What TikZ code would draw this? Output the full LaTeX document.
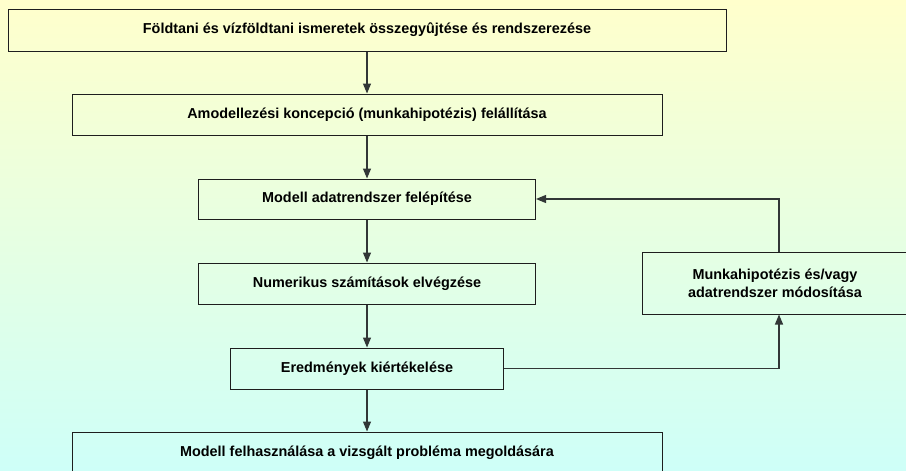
\documentclass[tikz,border=0pt]{standalone}
\usepackage{fontspec}
\setmainfont{Liberation Sans}
\usetikzlibrary{arrows.meta}
\definecolor{bgtop}{RGB}{255,255,204}
\definecolor{bgbot}{RGB}{206,255,248}
\definecolor{edge}{RGB}{30,30,30}
\definecolor{conn}{RGB}{50,55,55}
\tikzset{
  box/.style={draw=edge, line width=1pt, rectangle, inner sep=0pt, align=center,
    font=\fontsize{14.4}{18}\selectfont\bfseries},
  conn/.style={draw=conn, line width=1.2pt, -{Triangle[length=10pt,width=8pt]}},
  plain/.style={draw=conn, line width=1.2pt}
}
\begin{document}
\begin{tikzpicture}[x=1pt,y=-1pt]
\useasboundingbox (0,0) rectangle (906,471);
\clip (0,0) rectangle (906,471);
\shade[top color=bgtop, bottom color=bgbot] (0,0) rectangle (906,471);
\node[box, minimum width=718pt, minimum height=42pt] (b1) at (367,30) {Földtani és vízföldtani ismeretek összegyûjtése és rendszerezése};
\node[box, minimum width=590pt, minimum height=41pt] (b2) at (367,114.5) {Amodellezési koncepció (munkahipotézis) felállítása};
\node[box, minimum width=337pt, minimum height=40pt] (b3) at (367,199) {Modell adatrendszer felépítése};
\node[box, minimum width=337pt, minimum height=41pt] (b4) at (367,283.5) {Numerikus számítások elvégzése};
\node[box, minimum width=273pt, minimum height=41pt] (b5) at (367,368.5) {Eredmények kiértékelése};
\node[box, minimum width=590pt, minimum height=42pt] (b6) at (367,453) {Modell felhasználása a vizsgált probléma megoldására};
\node[box, minimum width=266pt, minimum height=62pt] (rb) at (775,283) {Munkahipotézis és/vagy\\adatrendszer módosítása};
\draw[conn] (b1.south) -- (b2.north);
\draw[conn] (b2.south) -- (b3.north);
\draw[conn] (b3.south) -- (b4.north);
\draw[conn] (b4.south) -- (b5.north);
\draw[conn] (b5.south) -- (b6.north);
\draw[conn] (b5.east) -| ([xshift=4pt]rb.south);
\draw[conn] ([xshift=4pt]rb.north) |- (b3.east);
\end{tikzpicture}
\end{document}
